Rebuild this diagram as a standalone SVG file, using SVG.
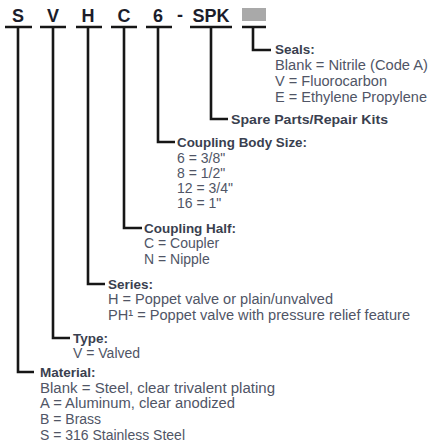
<svg xmlns="http://www.w3.org/2000/svg" width="430" height="446" viewBox="0 0 430 446">
<style>
.code{font-family:"Liberation Sans",Arial,sans-serif;font-weight:bold;font-size:18px;fill:#1b1d2b;text-anchor:middle}
.hd{font-family:"Liberation Sans",Arial,sans-serif;font-weight:bold;font-size:13.5px;fill:#3a3f4f}
.tx{font-family:"Liberation Sans",Arial,sans-serif;font-size:14px;fill:#505566}
.ln{fill:none;stroke:#161616;stroke-width:2.6}
</style>
<rect width="430" height="446" fill="#ffffff"/>
<g id="code">
<text class="code" x="18" y="22">S</text>
<text class="code" x="53" y="22">V</text>
<text class="code" x="88" y="22">H</text>
<text class="code" x="124" y="22">C</text>
<text class="code" x="158" y="22">6</text>
<text class="code" x="180" y="21">-</text>
<text class="code" x="211" y="22">SPK</text>
<rect x="242" y="8" width="24" height="13" fill="#a9a9a9"/>
</g>
<g id="connectors">
<path class="ln" d="M5 27H32M40 27H66M76 27H102M111 27H137M146 27H172M190 27H232M242 27H266"/>
<path class="ln" d="M18 27V372H34"/>
<path class="ln" d="M53 27V338H70"/>
<path class="ln" d="M88 27V284H105"/>
<path class="ln" d="M124 27V228H142"/>
<path class="ln" d="M158 27V142H175"/>
<path class="ln" d="M211 27V119H228"/>
<path class="ln" d="M253 27V50H271"/>
</g>
<g id="seals">
<text class="hd" x="275" y="54">Seals:</text>
<text class="tx" x="275" y="70" textLength="153" lengthAdjust="spacingAndGlyphs">Blank = Nitrile (Code A)</text>
<text class="tx" x="275" y="86" textLength="112" lengthAdjust="spacingAndGlyphs">V = Fluorocarbon</text>
<text class="tx" x="275" y="102" textLength="152" lengthAdjust="spacingAndGlyphs">E = Ethylene Propylene</text>
</g>
<g id="spare-parts">
<text class="hd" x="231" y="124" textLength="157" lengthAdjust="spacingAndGlyphs">Spare Parts/Repair Kits</text>
</g>
<g id="body-size">
<text class="hd" x="177" y="147" textLength="130" lengthAdjust="spacingAndGlyphs">Coupling Body Size:</text>
<text class="tx" x="177" y="163">6 = 3/8"</text>
<text class="tx" x="177" y="178">8 = 1/2"</text>
<text class="tx" x="177" y="193">12 = 3/4"</text>
<text class="tx" x="177" y="208">16 = 1"</text>
</g>
<g id="coupling-half">
<text class="hd" x="144" y="233" textLength="92" lengthAdjust="spacingAndGlyphs">Coupling Half:</text>
<text class="tx" x="144" y="248">C = Coupler</text>
<text class="tx" x="144" y="264">N = Nipple</text>
</g>
<g id="series">
<text class="hd" x="108" y="289">Series:</text>
<text class="tx" x="108" y="304" textLength="225" lengthAdjust="spacingAndGlyphs">H = Poppet valve or plain/unvalved</text>
<text class="tx" x="108" y="320" textLength="302" lengthAdjust="spacingAndGlyphs">PH¹ = Poppet valve with pressure relief feature</text>
</g>
<g id="type">
<text class="hd" x="73" y="343">Type:</text>
<text class="tx" x="73" y="358">V = Valved</text>
</g>
<g id="material">
<text class="hd" x="40" y="377">Material:</text>
<text class="tx" x="40" y="393" textLength="235" lengthAdjust="spacingAndGlyphs">Blank = Steel, clear trivalent plating</text>
<text class="tx" x="40" y="408" textLength="195" lengthAdjust="spacingAndGlyphs">A = Aluminum, clear anodized</text>
<text class="tx" x="40" y="424">B = Brass</text>
<text class="tx" x="40" y="440" textLength="145" lengthAdjust="spacingAndGlyphs">S = 316 Stainless Steel</text>
</g>
</svg>
